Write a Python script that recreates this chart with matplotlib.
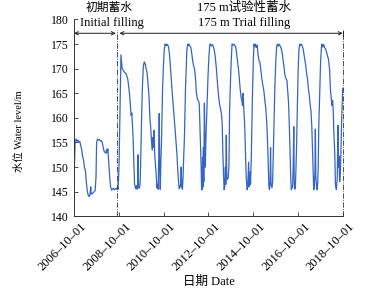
import matplotlib
matplotlib.use('Agg')
import matplotlib.pyplot as plt
import matplotlib.dates as mdates
import matplotlib.transforms as mtransforms
import pandas as pd

plt.rcParams['font.family'] = ['Liberation Serif', 'Noto Sans CJK SC']
plt.rcParams['font.size'] = 8

# daily water level (roughly twice a month, plus flood spikes)
dates = [
    # initial filling
    '2006-10-01', '2006-10-08', '2006-10-20', '2006-11-05', '2006-11-20', '2006-12-05', '2006-12-20',
    '2007-01-05', '2007-01-20', '2007-02-05', '2007-02-20', '2007-03-05', '2007-03-20', '2007-04-05',
    '2007-04-20', '2007-05-05', '2007-05-20', '2007-06-05', '2007-06-20', '2007-07-01', '2007-07-10',
    '2007-07-25', '2007-08-10', '2007-08-25', '2007-09-10', '2007-09-25', '2007-10-05', '2007-10-20',
    '2007-11-05', '2007-11-20', '2007-12-05', '2007-12-20', '2008-01-05', '2008-01-20', '2008-02-05',
    '2008-02-20', '2008-03-05', '2008-03-15', '2008-03-25', '2008-04-05', '2008-04-20', '2008-05-05',
    '2008-05-20', '2008-06-05', '2008-06-20', '2008-07-05', '2008-07-20', '2008-08-05', '2008-08-20',
    '2008-09-05', '2008-09-20',
    # 2008-2009
    '2008-10-05', '2008-10-15', '2008-10-25', '2008-11-05', '2008-11-15', '2008-11-25', '2008-12-10',
    '2008-12-25', '2009-01-10', '2009-01-25', '2009-02-10', '2009-02-25', '2009-03-10', '2009-03-25',
    '2009-04-10', '2009-04-20', '2009-05-01', '2009-05-10', '2009-05-25', '2009-06-05', '2009-06-15',
    '2009-06-25', '2009-07-05', '2009-07-15', '2009-07-25', '2009-08-05', '2009-08-12', '2009-08-18',
    '2009-08-28', '2009-09-10',
    # 2009-2010
    '2009-09-15', '2009-09-25', '2009-10-08', '2009-10-20', '2009-11-05', '2009-11-20', '2009-12-05',
    '2009-12-20', '2010-01-05', '2010-01-20', '2010-02-05', '2010-02-20', '2010-03-05', '2010-03-20',
    '2010-04-01', '2010-04-10', '2010-04-20', '2010-05-01', '2010-05-10', '2010-05-25', '2010-06-05',
    '2010-06-15', '2010-06-25', '2010-07-05', '2010-07-15', '2010-07-22', '2010-07-30', '2010-08-08',
    '2010-08-20', '2010-08-28', '2010-09-05', '2010-09-15', '2010-09-28',
    # 2010-2011
    '2010-10-10', '2010-10-25', '2010-11-05', '2010-11-15', '2010-11-25', '2010-12-05', '2010-12-20',
    '2011-01-05', '2011-01-20', '2011-02-05', '2011-02-20', '2011-03-05', '2011-03-20', '2011-04-05',
    '2011-04-20', '2011-05-05', '2011-05-20', '2011-06-05', '2011-06-15', '2011-06-25', '2011-07-05',
    '2011-07-15', '2011-07-25', '2011-08-05', '2011-08-15', '2011-08-25', '2011-09-05', '2011-09-15',
    '2011-09-25',
    # 2011-2012
    '2011-10-05', '2011-10-15', '2011-10-28', '2011-11-10', '2011-11-20', '2011-12-05', '2011-12-20',
    '2012-01-05', '2012-01-20', '2012-02-05', '2012-02-20', '2012-03-05', '2012-03-20', '2012-04-05',
    '2012-04-20', '2012-05-05', '2012-05-15', '2012-05-25', '2012-06-05', '2012-06-12', '2012-06-20',
    '2012-06-28', '2012-07-05', '2012-07-12', '2012-07-18', '2012-07-28', '2012-08-05', '2012-08-12',
    '2012-08-20', '2012-08-28', '2012-09-10', '2012-09-25',
    # 2012-2013
    '2012-10-10', '2012-10-25', '2012-11-05', '2012-11-20', '2012-12-05', '2012-12-20', '2013-01-05',
    '2013-01-20', '2013-02-05', '2013-02-20', '2013-03-05', '2013-03-20', '2013-04-05', '2013-04-20',
    '2013-05-05', '2013-05-15', '2013-05-25', '2013-06-05', '2013-06-15', '2013-06-25', '2013-07-05',
    '2013-07-12', '2013-07-20', '2013-07-28', '2013-08-05', '2013-08-20', '2013-09-01', '2013-09-12',
    '2013-09-25',
    # 2013-2014
    '2013-10-10', '2013-10-22', '2013-11-05', '2013-11-20', '2013-12-05', '2013-12-20', '2014-01-05',
    '2014-01-20', '2014-02-05', '2014-02-20', '2014-03-05', '2014-03-20', '2014-04-01', '2014-04-10',
    '2014-04-20', '2014-05-01', '2014-05-15', '2014-06-01', '2014-06-10', '2014-06-25', '2014-07-05',
    '2014-07-20', '2014-07-30', '2014-08-10', '2014-08-20', '2014-09-01', '2014-09-10', '2014-09-22',
    # 2014-2015
    '2014-10-05', '2014-10-15', '2014-10-25', '2014-11-05', '2014-11-20', '2014-12-05', '2014-12-20',
    '2015-01-05', '2015-01-20', '2015-02-05', '2015-02-20', '2015-03-10', '2015-03-25', '2015-04-10',
    '2015-04-25', '2015-05-10', '2015-05-25', '2015-06-05', '2015-06-15', '2015-06-25', '2015-07-05',
    '2015-07-12', '2015-07-20', '2015-08-05', '2015-08-15', '2015-08-25', '2015-09-05', '2015-09-20',
    # 2015-2016
    '2015-10-05', '2015-10-20', '2015-11-01', '2015-11-15', '2015-12-01', '2015-12-20', '2016-01-05',
    '2016-01-20', '2016-02-05', '2016-02-20', '2016-03-05', '2016-03-20', '2016-04-05', '2016-04-20',
    '2016-05-01', '2016-05-12', '2016-05-25', '2016-06-05', '2016-06-15', '2016-06-25', '2016-07-05',
    '2016-07-15', '2016-07-25', '2016-08-01', '2016-08-10', '2016-08-20', '2016-08-28', '2016-09-10',
    '2016-09-20',
    # 2016-2017
    '2016-10-05', '2016-10-18', '2016-10-30', '2016-11-10', '2016-11-25', '2016-12-10', '2016-12-25',
    '2017-01-10', '2017-01-25', '2017-02-05', '2017-02-20', '2017-03-05', '2017-03-20', '2017-04-05',
    '2017-04-20', '2017-05-01', '2017-05-15', '2017-05-25', '2017-06-05', '2017-06-15', '2017-06-25',
    '2017-07-05', '2017-07-12', '2017-07-20', '2017-08-01', '2017-08-10', '2017-08-20', '2017-08-28',
    '2017-09-05', '2017-09-20',
    # 2017-2018
    '2017-10-05', '2017-10-20', '2017-10-30', '2017-11-10', '2017-11-25', '2017-12-10', '2017-12-25',
    '2018-01-10', '2018-01-25', '2018-02-10', '2018-03-01', '2018-03-15', '2018-03-25', '2018-04-10',
    '2018-04-20', '2018-05-01', '2018-05-10', '2018-05-25', '2018-06-05', '2018-06-20', '2018-07-05',
    '2018-07-15', '2018-07-22', '2018-08-01', '2018-08-12', '2018-08-25', '2018-09-05', '2018-09-15',
    '2018-10-01',
]

levels = [
    146.0, 150.5, 155.2, 155.7, 155.2, 155.5, 155.0,
    155.2, 154.3, 153.5, 152.0, 151.5, 150.0, 149.3,
    147.0, 145.2, 144.3, 144.0, 144.5, 146.0, 144.5,
    144.6, 144.8, 145.0, 145.2, 148.0, 155.0, 155.7,
    155.5, 155.6, 155.3, 155.4, 155.0, 154.0, 153.2,
    153.0, 152.8, 153.6, 153.0, 153.7, 151.0, 148.0,
    146.0, 145.3, 145.5, 145.7, 145.4, 145.6, 145.5,
    145.8, 145.5,
    150.5, 158.0, 166.0, 172.8, 171.5, 170.0, 169.7,
    169.4, 169.2, 169.0, 168.5, 167.8, 166.5, 164.8,
    162.0, 160.5, 161.0, 159.0, 155.0, 150.0, 146.5,
    146.0, 145.6, 146.2, 145.5, 146.0, 152.5, 146.0,
    145.7, 146.2,
    147.0, 153.0, 160.0, 166.0, 170.5, 171.4, 171.0,
    170.0, 169.2, 167.0, 164.5, 160.0, 158.0, 155.0,
    153.5, 156.0, 154.0, 157.5, 152.5, 150.0, 148.0,
    145.8, 146.5, 145.5, 152.0, 160.9, 150.0, 145.5,
    152.0, 155.0, 160.0, 166.0, 170.5,
    173.5, 175.0, 174.8, 175.0, 174.7, 174.9, 174.5,
    173.0, 170.5, 167.5, 165.0, 163.0, 160.5, 158.0,
    155.5, 153.0, 149.5, 146.5, 145.6, 146.2, 146.0,
    150.0, 146.0, 145.5, 148.0, 152.0, 155.5, 161.0,
    166.5,
    170.0, 173.5, 175.0, 174.7, 175.0, 174.6, 174.3,
    173.0, 171.5, 170.5, 169.8, 168.0, 165.0, 163.8,
    163.5, 163.0, 159.0, 155.0, 150.0, 146.0, 145.4,
    152.0, 146.0, 154.0, 147.0, 163.0, 155.0, 150.0,
    155.0, 158.0, 163.0, 168.5,
    172.5, 175.0, 175.0, 174.6, 174.9, 174.5, 173.8,
    172.5, 170.5, 168.0, 166.0, 164.0, 162.5, 161.7,
    160.5, 158.5, 153.0, 148.5, 145.4, 146.0, 150.0,
    146.5, 156.5, 148.0, 147.5, 147.8, 150.0, 161.5,
    167.0,
    172.0, 175.0, 174.8, 175.0, 174.7, 174.5, 173.0,
    171.5, 169.8, 167.5, 165.7, 164.0, 163.6, 162.5,
    165.0, 162.0, 159.0, 152.0, 148.0, 145.4, 146.0,
    151.0, 146.0, 149.0, 146.5, 152.0, 158.0, 166.0,
    172.0, 175.0, 174.5, 175.0, 174.3, 174.8, 173.0,
    171.6, 171.3, 169.6, 168.0, 166.5, 165.5, 163.5,
    162.0, 159.3, 155.0, 150.5, 146.0, 145.4, 147.0,
    154.0, 146.5, 145.8, 147.0, 152.0, 158.0, 166.0,
    171.5, 174.5, 175.0, 174.6, 175.0, 174.5, 174.0,
    173.0, 171.5, 170.0, 168.5, 168.0, 167.6, 165.0,
    163.0, 159.0, 153.0, 148.0, 145.4, 146.0, 145.8,
    150.0, 158.2, 147.0, 145.5, 146.0, 149.0, 155.0,
    161.5,
    170.0, 174.0, 175.0, 174.7, 175.0, 174.6, 174.0,
    172.7, 171.5, 170.6, 169.0, 168.0, 166.0, 164.5,
    162.5, 161.5, 158.3, 154.0, 150.0, 145.4, 146.0,
    149.0, 157.7, 148.0, 146.0, 145.4, 147.0, 150.0,
    158.0, 165.0,
    171.2, 174.5, 175.0, 174.4, 174.9, 174.3, 174.0,
    173.4, 172.6, 172.0, 169.8, 165.7, 164.5, 162.5,
    163.5, 161.0, 157.0, 152.6, 146.3, 145.4, 148.0,
    158.5, 150.0, 152.3, 147.0, 149.0, 155.0, 160.0,
    166.0,
]

tick_dates = ['2006-10-01', '2008-10-01', '2010-10-01', '2012-10-01',
              '2014-10-01', '2016-10-01', '2018-10-01']
y_ticks = [140, 145, 150, 155, 160, 165, 170, 175, 180]
split_date = '2008-09-01'
end_date = '2018-10-01'

df = pd.DataFrame({'date': pd.to_datetime(dates), 'level': levels})
ticks = pd.to_datetime(tick_dates)
t0, t_split, t_end = ticks[0], pd.Timestamp(split_date), pd.Timestamp(end_date)

W, H = 368, 292
fig = plt.figure(figsize=(W / 100, H / 100), dpi=100)
ax = fig.add_axes([74 / W, 1 - 216.3 / H, 268.7 / W, 196.8 / H])

ax.plot(df['date'], df['level'], color='#3565c4', lw=0.9)

ax.set_xlim(t0, t_end)
ax.set_ylim(140, 180)
ax.set_yticks(y_ticks)
ax.set_xticks(ticks)
ax.xaxis.set_major_formatter(mdates.DateFormatter('%Y–%m–%d'))
ax.tick_params(direction='in', length=3, width=0.6, color='#333333')
ax.tick_params(axis='y', labelsize=8.5)
ax.tick_params(axis='x', labelsize=9)

# shift the rotated date labels a bit right, like the original
shift = mtransforms.ScaledTranslation(6 / 100, 1 / 100, fig.dpi_scale_trans)
for lab in ax.get_xticklabels():
    lab.set_rotation(45)
    lab.set_ha('right')
    lab.set_va('top')
    lab.set_rotation_mode('anchor')
    lab.set_transform(lab.get_transform() + shift)

ax.spines['top'].set_visible(False)
ax.spines['right'].set_visible(False)
for s in ['left', 'bottom']:
    ax.spines[s].set_linewidth(0.7)
    ax.spines[s].set_color('#333333')

# separators and spans
for t in [t_split, t_end]:
    ax.plot([t, t], [140, 177.9], ls='-.', lw=0.6, color='#333333', clip_on=False)

arrow_y = 177.2
ap = dict(arrowstyle='<->', lw=0.7, color='#222222', shrinkA=0, shrinkB=0, mutation_scale=6)
ax.annotate('', xy=(t_split - pd.Timedelta(days=20), arrow_y), xytext=(t0, arrow_y),
            arrowprops=ap, annotation_clip=False)
ax.annotate('', xy=(t_end, arrow_y), xytext=(t_split + pd.Timedelta(days=40), arrow_y),
            arrowprops=ap, annotation_clip=False)
ax.plot([t_end, t_end], [176.7, 177.7], lw=0.7, color='#222222', clip_on=False)

ax.text(pd.Timestamp('2008-05-01'), 182.4, '初期蓄水', ha='center', va='center', fontsize=8.5, clip_on=False)
ax.text(pd.Timestamp('2008-06-10'), 179.3, 'Initial filling', ha='center', va='center', fontsize=9, clip_on=False)
ax.text(pd.Timestamp('2014-05-10'), 182.4, '175 m试验性蓄水', ha='center', va='center', fontsize=9, clip_on=False)
ax.text(pd.Timestamp('2014-05-10'), 179.3, '175 m Trial filling', ha='center', va='center', fontsize=9, clip_on=False)

# axis titles placed in figure pixels
fig.text(209 / W, 1 - 282 / H, '日期 Date', ha='center', va='center', fontsize=9)
fig.text(19 / W, 1 - 131 / H, '水位 Water level/m', ha='center', va='center',
         rotation=90, rotation_mode='anchor', fontsize=7.5)

fig.savefig('out.png', dpi=100)
